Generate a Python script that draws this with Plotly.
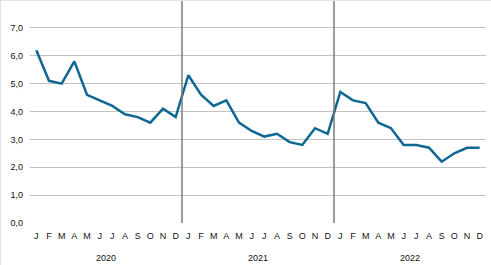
import plotly.graph_objects as go

months = ["J", "F", "M", "A", "M", "J", "J", "A", "S", "O", "N", "D"]
years = ["2020", "2021", "2022"]
values = [6.2, 5.1, 5.0, 5.8, 4.6, 4.4, 4.2, 3.9, 3.8, 3.6, 4.1, 3.8,
          5.3, 4.6, 4.2, 4.4, 3.6, 3.3, 3.1, 3.2, 2.9, 2.8, 3.4, 3.2,
          4.7, 4.4, 4.3, 3.6, 3.4, 2.8, 2.8, 2.7, 2.2, 2.5, 2.7, 2.7]
y_ticks = [0, 1, 2, 3, 4, 5, 6, 7]
y_ticktext = ["0,0", "1,0", "2,0", "3,0", "4,0", "5,0", "6,0", "7,0"]

n = len(values)
x = list(range(n))
month_labels = months * len(years)

W, H = 491, 265
ml, mr, mt, mb = 30, 5, 0, 42
pw, ph = W - ml - mr, H - mt - mb

fig = go.Figure()
fig.add_trace(go.Scatter(x=x, y=values, mode="lines",
                         line=dict(color="#0f6794", width=2.5), showlegend=False))

for i in range(1, len(years)):
    fig.add_shape(type="line", xref="x", yref="paper", x0=12 * i - 0.5, x1=12 * i - 0.5,
                  y0=0, y1=1, line=dict(color="#7a7a7a", width=1.5))

# faint outer frame (top and left)
fig.add_shape(type="line", xref="paper", yref="paper", x0=-ml / pw, x1=1 + mr / pw,
              y0=1 - 0.5 / ph, y1=1 - 0.5 / ph, line=dict(color="#e2e2e2", width=1))
fig.add_shape(type="line", xref="paper", yref="paper", x0=-(ml - 0.5) / pw, x1=-(ml - 0.5) / pw,
              y0=-mb / ph, y1=1, line=dict(color="#e2e2e2", width=1))

for i, yr in enumerate(years):
    fig.add_annotation(x=12 * i + 5.5, y=-0.155, xref="x", yref="paper", text=yr,
                       showarrow=False, font=dict(size=9, color="#111", family="Liberation Sans"),
                       yanchor="middle")

fig.update_layout(
    width=W, height=H,
    margin=dict(l=ml, r=mr, t=mt, b=mb),
    plot_bgcolor="white", paper_bgcolor="white",
    font=dict(family="Liberation Sans", size=9, color="#111"),
    xaxis=dict(range=[-0.5, n - 0.5], tickmode="array", tickvals=x, ticktext=month_labels,
               showgrid=False, zeroline=False, showline=False, ticks="", ticklabelstandoff=6),
    yaxis=dict(range=[0, 8], tickmode="array", tickvals=y_ticks, ticktext=y_ticktext,
               showgrid=True, gridcolor="#c3c3c3", gridwidth=1.2, zeroline=False,
               showline=False, ticks="", ticklabelstandoff=6),
)

fig.write_html("out.html")
